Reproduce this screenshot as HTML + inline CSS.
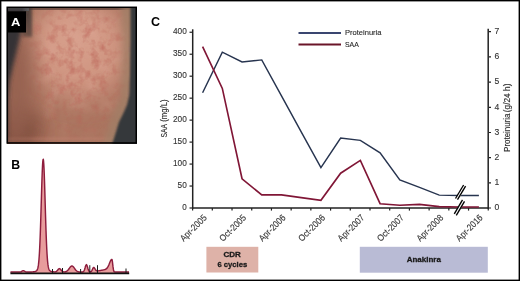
<!DOCTYPE html>
<html><head><meta charset="utf-8"><style>
html,body{margin:0;padding:0;background:#fff;overflow:hidden;}
svg{display:block;will-change:transform;}
text{font-family:"Liberation Sans", sans-serif;}
.t{stroke:#2a2a2a;stroke-width:0.12px;}
.t2{stroke:#333;stroke-width:0.12px;}
</style></head><body>
<svg width="520" height="281" viewBox="0 0 520 281">
<defs>
  <clipPath id="cp"><rect x="7" y="7" width="130" height="137"/></clipPath>
  <filter id="b12" x="-50%" y="-50%" width="200%" height="200%"><feGaussianBlur stdDeviation="12"/></filter>
  <filter id="b10" x="-50%" y="-50%" width="200%" height="200%"><feGaussianBlur stdDeviation="9"/></filter>
  <filter id="b25" x="-50%" y="-50%" width="200%" height="200%"><feGaussianBlur stdDeviation="2.3"/></filter>
  <radialGradient id="mg" cx="78" cy="62" r="75" gradientUnits="userSpaceOnUse" gradientTransform="translate(78 62) scale(0.9 1.1) translate(-78 -62)">
    <stop offset="0" stop-color="#fff"/><stop offset="0.4" stop-color="#fff"/><stop offset="1" stop-color="#222"/>
  </radialGradient>
  <mask id="tm" maskUnits="userSpaceOnUse" x="0" y="0" width="150" height="150"><rect x="0" y="0" width="150" height="150" fill="url(#mg)"/></mask>
  <filter id="texr" x="0" y="0" width="100%" height="100%" filterUnits="userSpaceOnUse" color-interpolation-filters="sRGB">
    <feTurbulence type="fractalNoise" baseFrequency="0.12" numOctaves="3" seed="4" result="n"/>
    <feColorMatrix in="n" type="matrix" values="0 0 0 0 0.72  0 0 0 0 0.36  0 0 0 0 0.32  1.5 0 0 0 -0.67"/>
    <feGaussianBlur stdDeviation="0.6"/>
  </filter>
  <filter id="texl" x="0" y="0" width="100%" height="100%" filterUnits="userSpaceOnUse" color-interpolation-filters="sRGB">
    <feTurbulence type="fractalNoise" baseFrequency="0.07" numOctaves="2" seed="9" result="n"/>
    <feColorMatrix in="n" type="matrix" values="0 0 0 0 0.88  0 0 0 0 0.67  0 0 0 0 0.61  1.4 0 0 0 -0.66"/>
    <feGaussianBlur stdDeviation="0.8"/>
  </filter>
  <filter id="b3" x="-50%" y="-50%" width="200%" height="200%"><feGaussianBlur stdDeviation="3"/></filter>
  <filter id="b2" x="-50%" y="-50%" width="200%" height="200%"><feGaussianBlur stdDeviation="1.6"/></filter>
  <filter id="b1" x="-50%" y="-50%" width="200%" height="200%"><feGaussianBlur stdDeviation="0.8"/></filter>
</defs>
<rect width="520" height="281" fill="#fff"/>

<!-- Panel A photo -->
<g clip-path="url(#cp)">
  <rect x="7" y="7" width="130" height="137" fill="#ab7560"/>
  <ellipse cx="80" cy="50" rx="50" ry="50" fill="#cf9480" filter="url(#b12)"/>
  <ellipse cx="75" cy="38" rx="32" ry="30" fill="#d69e8a" filter="url(#b12)"/>
  <ellipse cx="16" cy="130" rx="26" ry="22" fill="#7c4b3a" filter="url(#b10)"/>
  <g mask="url(#tm)"><rect x="7" y="7" width="130" height="137" fill="#fff" filter="url(#texl)" opacity="0.6"/></g>
  <g mask="url(#tm)"><rect x="7" y="7" width="130" height="137" fill="#fff" filter="url(#texr)" opacity="0.9"/></g>
  <rect x="7" y="137.5" width="130" height="2.5" fill="#c98878" opacity="0.35" filter="url(#b1)"/>
  <!-- top dark band -->
  <rect x="7" y="7" width="130" height="3" fill="#6a4a40" opacity="0.85"/>
  <rect x="22" y="7" width="10" height="30" fill="#3e3836" opacity="0.8" filter="url(#b2)"/>
  <rect x="7" y="7" width="22" height="4" fill="#5a5a5c"/>
  <!-- left dark region -->
  <ellipse cx="16" cy="85" rx="18" ry="62" fill="#94604f" opacity="0.9" filter="url(#b10)"/>
  <path d="M2,8 L25,8 L21,33 L16.5,52 L12.5,68 L9.5,82 L8,100 L7.2,143 L2,143 Z" fill="#363334" filter="url(#b25)"/>
  <!-- right dark transition & region -->
  <path d="M121,2 L145,2 L145,150 L102,150 L106,136 L110,122 L115,110 L120,98 L122,75 L123,40 Z" fill="#a08068" opacity="0.75" filter="url(#b3)"/>
  <path d="M130.5,2 L145,2 L145,150 L110,150 L112.5,143 L116,132 L119,122 L123,114 L127,105 L129.3,95 L130,75 L130.5,40 Z" fill="#35373b" filter="url(#b1)"/>
  <!-- label box -->
  <rect x="7" y="11.3" width="19" height="21.2" fill="#000"/>
</g>
<rect x="7.2" y="7.3" width="129.05" height="135.65" fill="none" stroke="#000" stroke-width="1.5"/>
<text x="15.8" y="25.9" font-size="11.6" font-weight="bold" fill="#fff" text-anchor="middle" textLength="9.4" lengthAdjust="spacingAndGlyphs">A</text>

<!-- Panel B -->
<text x="15.8" y="168.6" font-size="12.3" font-weight="bold" fill="#000" text-anchor="middle">B</text>
<path d="M10.5,273 L10.50,272.00 L11.00,272.00 L11.50,272.00 L12.00,272.00 L12.50,272.00 L13.00,272.00 L13.50,272.00 L14.00,272.00 L14.50,272.00 L15.00,272.00 L15.50,272.00 L16.00,272.00 L16.50,272.00 L17.00,272.00 L17.50,272.00 L18.00,272.00 L18.50,272.00 L19.00,271.99 L19.50,271.98 L20.00,271.95 L20.50,271.87 L21.00,271.73 L21.50,271.50 L22.00,271.21 L22.50,270.92 L23.00,270.73 L23.50,270.72 L24.00,270.88 L24.50,271.15 L25.00,271.45 L25.50,271.69 L26.00,271.85 L26.50,271.94 L27.00,271.98 L27.50,271.99 L28.00,271.99 L28.50,271.99 L29.00,271.99 L29.50,271.98 L30.00,271.97 L30.50,271.96 L31.00,271.95 L31.50,271.93 L32.00,271.90 L32.50,271.86 L33.00,271.82 L33.50,271.76 L34.00,271.68 L34.50,271.59 L35.00,271.46 L35.50,271.30 L36.00,271.08 L36.50,270.72 L36.75,270.46 L37.00,270.13 L37.25,269.68 L37.50,269.08 L37.75,268.29 L38.00,267.25 L38.25,265.89 L38.50,264.14 L38.75,261.92 L39.00,259.13 L39.25,255.70 L39.50,251.56 L39.75,246.65 L40.00,240.95 L40.25,234.46 L40.50,227.24 L40.75,219.41 L41.00,211.11 L41.25,202.56 L41.50,194.03 L41.75,185.80 L42.00,178.19 L42.25,171.52 L42.50,166.07 L42.75,162.09 L43.00,159.78 L43.25,159.24 L43.50,160.49 L43.75,163.49 L44.00,168.08 L44.25,174.06 L44.50,181.14 L44.75,189.04 L45.00,197.42 L45.25,206.00 L45.50,214.47 L45.75,222.61 L46.00,230.21 L46.25,237.15 L46.50,243.32 L46.75,248.71 L47.00,253.31 L47.25,257.16 L47.50,260.32 L47.75,262.87 L48.00,264.90 L48.25,266.48 L48.50,267.70 L48.75,268.63 L49.00,269.34 L49.25,269.87 L49.50,270.27 L49.75,270.57 L50.00,270.81 L50.25,270.99 L50.50,271.13 L50.75,271.24 L51.00,271.34 L51.50,271.49 L52.00,271.61 L52.50,271.70 L53.00,271.77 L53.50,271.82 L54.00,271.86 L54.50,271.87 L55.00,271.85 L55.50,271.78 L56.00,271.61 L56.50,271.32 L57.00,270.88 L57.50,270.31 L58.00,269.67 L58.50,269.09 L59.00,268.70 L59.50,268.60 L60.00,268.83 L60.50,269.31 L61.00,269.94 L61.50,270.56 L62.00,271.09 L62.50,271.47 L63.00,271.71 L63.50,271.84 L64.00,271.89 L64.50,271.87 L65.00,271.82 L65.50,271.71 L66.00,271.54 L66.50,271.31 L67.00,270.98 L67.50,270.57 L68.00,270.05 L68.50,269.45 L69.00,268.78 L69.50,268.08 L70.00,267.41 L70.50,266.81 L71.00,266.35 L71.50,266.07 L72.00,266.00 L72.50,266.16 L73.00,266.51 L73.50,267.04 L74.00,267.67 L74.50,268.36 L75.00,269.05 L75.50,269.70 L76.00,270.27 L76.50,270.75 L77.00,271.12 L77.50,271.41 L78.00,271.62 L78.50,271.76 L79.00,271.86 L79.50,271.92 L80.00,271.95 L80.50,271.97 L81.00,271.99 L81.50,271.99 L82.00,271.98 L82.50,271.94 L83.00,271.82 L83.50,271.50 L84.00,270.83 L84.50,269.67 L85.00,268.05 L85.50,266.29 L86.00,264.97 L86.50,264.62 L87.00,265.41 L87.50,266.98 L88.00,268.74 L88.50,270.20 L89.00,271.15 L89.50,271.65 L90.00,271.84 L90.50,271.83 L91.00,271.63 L91.50,271.14 L92.00,270.31 L92.50,269.21 L93.00,268.12 L93.50,267.46 L94.00,267.51 L94.50,268.13 L95.00,268.83 L95.50,269.61 L96.00,270.34 L96.50,270.73 L97.00,270.88 L97.50,270.90 L98.00,270.86 L98.50,270.80 L99.00,270.72 L99.50,270.65 L100.00,270.56 L100.50,270.48 L101.00,270.39 L101.50,270.30 L102.00,270.20 L102.50,270.10 L103.00,270.00 L103.50,269.89 L104.00,269.77 L104.50,269.63 L105.00,269.47 L105.50,269.26 L106.00,268.99 L106.50,268.62 L107.00,268.13 L107.50,267.49 L108.00,266.67 L108.50,265.66 L109.00,264.51 L109.50,263.26 L110.00,262.01 L110.50,260.88 L111.00,259.98 L111.50,259.41 L112.00,259.41 L112.50,262.23 L113.00,266.63 L113.50,269.90 L114.00,271.41 L114.50,271.88 L115.00,271.98 L115.50,272.00 L116.00,272.00 L116.50,272.00 L117.00,272.00 L117.50,272.00 L118.00,272.00 L118.50,272.00 L119.00,272.00 L119.50,272.00 L120.00,272.00 L120.50,272.00 L121.00,272.00 L121.50,272.00 L122.00,272.00 L122.50,272.00 L123.00,272.00 L123.50,272.00 L124.00,272.00 L124.50,272.00 L125.00,272.00 L125.50,272.00 L126.00,272.00 L126.50,272.00 L127.00,272.00 L127.50,272.00 L128.00,272.00 L128.50,272.00 L129.00,272.00 L129,273 Z" fill="#e89c9c"/>
<path d="M10.50,272.00 L11.00,272.00 L11.50,272.00 L12.00,272.00 L12.50,272.00 L13.00,272.00 L13.50,272.00 L14.00,272.00 L14.50,272.00 L15.00,272.00 L15.50,272.00 L16.00,272.00 L16.50,272.00 L17.00,272.00 L17.50,272.00 L18.00,272.00 L18.50,272.00 L19.00,271.99 L19.50,271.98 L20.00,271.95 L20.50,271.87 L21.00,271.73 L21.50,271.50 L22.00,271.21 L22.50,270.92 L23.00,270.73 L23.50,270.72 L24.00,270.88 L24.50,271.15 L25.00,271.45 L25.50,271.69 L26.00,271.85 L26.50,271.94 L27.00,271.98 L27.50,271.99 L28.00,271.99 L28.50,271.99 L29.00,271.99 L29.50,271.98 L30.00,271.97 L30.50,271.96 L31.00,271.95 L31.50,271.93 L32.00,271.90 L32.50,271.86 L33.00,271.82 L33.50,271.76 L34.00,271.68 L34.50,271.59 L35.00,271.46 L35.50,271.30 L36.00,271.08 L36.50,270.72 L36.75,270.46 L37.00,270.13 L37.25,269.68 L37.50,269.08 L37.75,268.29 L38.00,267.25 L38.25,265.89 L38.50,264.14 L38.75,261.92 L39.00,259.13 L39.25,255.70 L39.50,251.56 L39.75,246.65 L40.00,240.95 L40.25,234.46 L40.50,227.24 L40.75,219.41 L41.00,211.11 L41.25,202.56 L41.50,194.03 L41.75,185.80 L42.00,178.19 L42.25,171.52 L42.50,166.07 L42.75,162.09 L43.00,159.78 L43.25,159.24 L43.50,160.49 L43.75,163.49 L44.00,168.08 L44.25,174.06 L44.50,181.14 L44.75,189.04 L45.00,197.42 L45.25,206.00 L45.50,214.47 L45.75,222.61 L46.00,230.21 L46.25,237.15 L46.50,243.32 L46.75,248.71 L47.00,253.31 L47.25,257.16 L47.50,260.32 L47.75,262.87 L48.00,264.90 L48.25,266.48 L48.50,267.70 L48.75,268.63 L49.00,269.34 L49.25,269.87 L49.50,270.27 L49.75,270.57 L50.00,270.81 L50.25,270.99 L50.50,271.13 L50.75,271.24 L51.00,271.34 L51.50,271.49 L52.00,271.61 L52.50,271.70 L53.00,271.77 L53.50,271.82 L54.00,271.86 L54.50,271.87 L55.00,271.85 L55.50,271.78 L56.00,271.61 L56.50,271.32 L57.00,270.88 L57.50,270.31 L58.00,269.67 L58.50,269.09 L59.00,268.70 L59.50,268.60 L60.00,268.83 L60.50,269.31 L61.00,269.94 L61.50,270.56 L62.00,271.09 L62.50,271.47 L63.00,271.71 L63.50,271.84 L64.00,271.89 L64.50,271.87 L65.00,271.82 L65.50,271.71 L66.00,271.54 L66.50,271.31 L67.00,270.98 L67.50,270.57 L68.00,270.05 L68.50,269.45 L69.00,268.78 L69.50,268.08 L70.00,267.41 L70.50,266.81 L71.00,266.35 L71.50,266.07 L72.00,266.00 L72.50,266.16 L73.00,266.51 L73.50,267.04 L74.00,267.67 L74.50,268.36 L75.00,269.05 L75.50,269.70 L76.00,270.27 L76.50,270.75 L77.00,271.12 L77.50,271.41 L78.00,271.62 L78.50,271.76 L79.00,271.86 L79.50,271.92 L80.00,271.95 L80.50,271.97 L81.00,271.99 L81.50,271.99 L82.00,271.98 L82.50,271.94 L83.00,271.82 L83.50,271.50 L84.00,270.83 L84.50,269.67 L85.00,268.05 L85.50,266.29 L86.00,264.97 L86.50,264.62 L87.00,265.41 L87.50,266.98 L88.00,268.74 L88.50,270.20 L89.00,271.15 L89.50,271.65 L90.00,271.84 L90.50,271.83 L91.00,271.63 L91.50,271.14 L92.00,270.31 L92.50,269.21 L93.00,268.12 L93.50,267.46 L94.00,267.51 L94.50,268.13 L95.00,268.83 L95.50,269.61 L96.00,270.34 L96.50,270.73 L97.00,270.88 L97.50,270.90 L98.00,270.86 L98.50,270.80 L99.00,270.72 L99.50,270.65 L100.00,270.56 L100.50,270.48 L101.00,270.39 L101.50,270.30 L102.00,270.20 L102.50,270.10 L103.00,270.00 L103.50,269.89 L104.00,269.77 L104.50,269.63 L105.00,269.47 L105.50,269.26 L106.00,268.99 L106.50,268.62 L107.00,268.13 L107.50,267.49 L108.00,266.67 L108.50,265.66 L109.00,264.51 L109.50,263.26 L110.00,262.01 L110.50,260.88 L111.00,259.98 L111.50,259.41 L112.00,259.41 L112.50,262.23 L113.00,266.63 L113.50,269.90 L114.00,271.41 L114.50,271.88 L115.00,271.98 L115.50,272.00 L116.00,272.00 L116.50,272.00 L117.00,272.00 L117.50,272.00 L118.00,272.00 L118.50,272.00 L119.00,272.00 L119.50,272.00 L120.00,272.00 L120.50,272.00 L121.00,272.00 L121.50,272.00 L122.00,272.00 L122.50,272.00 L123.00,272.00 L123.50,272.00 L124.00,272.00 L124.50,272.00 L125.00,272.00 L125.50,272.00 L126.00,272.00 L126.50,272.00 L127.00,272.00 L127.50,272.00 L128.00,272.00 L128.50,272.00 L129.00,272.00" fill="none" stroke="#8e1d3d" stroke-width="1.45" stroke-linejoin="round"/>
<line x1="10.4" y1="273.4" x2="129.2" y2="273.4" stroke="#111" stroke-width="1.6"/>
<g stroke="#1a1a1a" stroke-width="1">
  <line x1="52.5" y1="269" x2="52.5" y2="273"/>
  <line x1="62.5" y1="268" x2="62.5" y2="273"/>
  <line x1="80.6" y1="269" x2="80.6" y2="273"/>
  <line x1="89.8" y1="265.2" x2="89.8" y2="273"/>
  <line x1="97.5" y1="265.2" x2="97.5" y2="273"/>
  <line x1="126" y1="268.5" x2="126" y2="273"/>
</g>

<!-- Panel C -->
<text x="155.5" y="26.2" font-size="12.5" font-weight="bold" fill="#000" text-anchor="middle">C</text>

<!-- axes -->
<g stroke="#222" stroke-width="1.5" fill="none">
  <line x1="192.7" y1="29.3" x2="192.7" y2="208.7"/>
  <line x1="488.2" y1="28.8" x2="488.2" y2="208.7"/>
  <line x1="192" y1="208" x2="488.9" y2="208"/>
</g>
<!-- left ticks -->
<g stroke="#222" stroke-width="1.2">
  <line x1="189.5" y1="32.25" x2="192" y2="32.25"/>
  <line x1="189.5" y1="54.22" x2="192" y2="54.22"/>
  <line x1="189.5" y1="76.19" x2="192" y2="76.19"/>
  <line x1="189.5" y1="98.16" x2="192" y2="98.16"/>
  <line x1="189.5" y1="120.13" x2="192" y2="120.13"/>
  <line x1="189.5" y1="142.1" x2="192" y2="142.1"/>
  <line x1="189.5" y1="164.07" x2="192" y2="164.07"/>
  <line x1="189.5" y1="186.04" x2="192" y2="186.04"/>
  <line x1="189.5" y1="208" x2="192" y2="208"/>
</g>
<!-- right ticks -->
<g stroke="#222" stroke-width="1.2">
  <line x1="489" y1="31.7" x2="491" y2="31.7"/>
  <line x1="489" y1="56.9" x2="491" y2="56.9"/>
  <line x1="489" y1="82.1" x2="491" y2="82.1"/>
  <line x1="489" y1="107.3" x2="491" y2="107.3"/>
  <line x1="489" y1="132.5" x2="491" y2="132.5"/>
  <line x1="489" y1="157.6" x2="491" y2="157.6"/>
  <line x1="489" y1="182.8" x2="491" y2="182.8"/>
  <line x1="489" y1="208" x2="491" y2="208"/>
</g>
<!-- x ticks -->
<g stroke="#222" stroke-width="1.2">
  <line x1="192.6" y1="208" x2="192.6" y2="210.6"/>
  <line x1="212.31" y1="208" x2="212.31" y2="210.6"/>
  <line x1="232.02" y1="208" x2="232.02" y2="210.6"/>
  <line x1="251.73" y1="208" x2="251.73" y2="210.6"/>
  <line x1="271.44" y1="208" x2="271.44" y2="210.6"/>
  <line x1="291.15" y1="208" x2="291.15" y2="210.6"/>
  <line x1="310.86" y1="208" x2="310.86" y2="210.6"/>
  <line x1="330.57" y1="208" x2="330.57" y2="210.6"/>
  <line x1="350.28" y1="208" x2="350.28" y2="210.6"/>
  <line x1="369.99" y1="208" x2="369.99" y2="210.6"/>
  <line x1="389.7" y1="208" x2="389.7" y2="210.6"/>
  <line x1="409.41" y1="208" x2="409.41" y2="210.6"/>
  <line x1="429.12" y1="208" x2="429.12" y2="210.6"/>
  <line x1="448.83" y1="208" x2="448.83" y2="210.6"/>
  <line x1="468.54" y1="208" x2="468.54" y2="210.6"/>
  <line x1="488.25" y1="208" x2="488.25" y2="210.6"/>
</g>

<!-- left tick labels -->
<g class="t2" font-size="9.25" fill="#333" text-anchor="end">
  <text x="186.8" y="34.45" textLength="13.8" lengthAdjust="spacingAndGlyphs">400</text>
  <text x="186.8" y="56.45" textLength="13.8" lengthAdjust="spacingAndGlyphs">350</text>
  <text x="186.8" y="78.45" textLength="13.8" lengthAdjust="spacingAndGlyphs">300</text>
  <text x="186.8" y="100.35" textLength="13.8" lengthAdjust="spacingAndGlyphs">250</text>
  <text x="186.8" y="122.35" textLength="13.8" lengthAdjust="spacingAndGlyphs">200</text>
  <text x="186.8" y="144.35" textLength="13.8" lengthAdjust="spacingAndGlyphs">150</text>
  <text x="186.8" y="166.25" textLength="13.8" lengthAdjust="spacingAndGlyphs">100</text>
  <text x="186.8" y="188.25" textLength="9.2" lengthAdjust="spacingAndGlyphs">50</text>
  <text x="186.8" y="210.15" textLength="4.5" lengthAdjust="spacingAndGlyphs">0</text>
</g>
<!-- right tick labels -->
<g class="t2" font-size="9.25" fill="#333">
  <text x="494.4" y="34.00" textLength="4.8" lengthAdjust="spacingAndGlyphs">7</text>
  <text x="494.4" y="59.20" textLength="4.8" lengthAdjust="spacingAndGlyphs">6</text>
  <text x="494.4" y="84.40" textLength="4.8" lengthAdjust="spacingAndGlyphs">5</text>
  <text x="494.4" y="109.60" textLength="4.8" lengthAdjust="spacingAndGlyphs">4</text>
  <text x="494.4" y="134.80" textLength="4.8" lengthAdjust="spacingAndGlyphs">3</text>
  <text x="494.4" y="159.90" textLength="4.8" lengthAdjust="spacingAndGlyphs">2</text>
  <text x="494.4" y="185.10" textLength="4.8" lengthAdjust="spacingAndGlyphs">1</text>
  <text x="494.4" y="210.30" textLength="4.8" lengthAdjust="spacingAndGlyphs">0</text>
</g>
<!-- axis titles -->
<text transform="translate(167.4,137.4) rotate(-90)" class="t" font-size="8.5" fill="#2a2a2a" textLength="13.4" lengthAdjust="spacingAndGlyphs">SAA</text>
<text transform="translate(167.4,121.8) rotate(-90)" class="t" font-size="8.5" fill="#2a2a2a" textLength="22.5" lengthAdjust="spacingAndGlyphs">(mg/L)</text>
<text transform="translate(510.4,151.9) rotate(-90)" class="t" font-size="8.8" fill="#2a2a2a" textLength="38.4" lengthAdjust="spacingAndGlyphs">Proteinuria</text>
<text transform="translate(510.4,112.2) rotate(-90)" class="t" font-size="8.8" fill="#2a2a2a" textLength="28.6" lengthAdjust="spacingAndGlyphs">(g/24 h)</text>

<!-- x labels -->
<g class="t2" font-size="9.25" fill="#333" text-anchor="end">
  <text transform="translate(207.35,218.40) rotate(-45)" textLength="33.5" lengthAdjust="spacingAndGlyphs">Apr-2005</text>
  <text transform="translate(246.77,218.40) rotate(-45)" textLength="33.5" lengthAdjust="spacingAndGlyphs">Oct-2005</text>
  <text transform="translate(286.19,218.40) rotate(-45)" textLength="33.5" lengthAdjust="spacingAndGlyphs">Apr-2006</text>
  <text transform="translate(325.61,218.40) rotate(-45)" textLength="33.5" lengthAdjust="spacingAndGlyphs">Oct-2006</text>
  <text transform="translate(365.03,218.40) rotate(-45)" textLength="33.5" lengthAdjust="spacingAndGlyphs">Apr-2007</text>
  <text transform="translate(404.45,218.40) rotate(-45)" textLength="33.5" lengthAdjust="spacingAndGlyphs">Oct-2007</text>
  <text transform="translate(443.87,218.40) rotate(-45)" textLength="33.5" lengthAdjust="spacingAndGlyphs">Apr-2008</text>
  <text transform="translate(483.29,218.40) rotate(-45)" textLength="33.5" lengthAdjust="spacingAndGlyphs">Apr-2016</text>
</g>

<!-- data lines -->
<polyline fill="none" stroke="#27344f" stroke-width="1.45" stroke-linejoin="miter" points="202.60,92.7 222.32,52.2 242.04,61.9 261.76,59.9 281.48,95.9 301.20,131.9 320.92,167.7 340.64,138.1 360.36,140.4 380.08,152.8 399.80,180.0 419.52,187.4 439.24,195.1 458.96,195.45 478.90,195.45"/>
<polyline fill="none" stroke="#801636" stroke-width="1.65" stroke-linejoin="miter" points="202.60,46.6 222.32,88.4 242.04,178.8 261.76,194.9 281.48,194.9 301.20,197.6 320.92,200.3 340.64,173.2 360.36,160.4 380.08,203.7 399.80,205.2 419.52,204.4 439.24,206.6 458.96,207.0 478.90,207.0"/>

<!-- break marks -->
<g>
  <path d="M455.2,198.8 L463.4,185.2 L466.2,186.9 L458,200.5 Z" fill="#fff"/>
  <line x1="455.5" y1="198.5" x2="463.6" y2="185" stroke="#000" stroke-width="1.35"/>
  <line x1="457.5" y1="199.7" x2="465.6" y2="186.2" stroke="#000" stroke-width="1.35"/>
  <path d="M454.1,213.6 L462.3,199.8 L465.1,201.5 L456.9,215.3 Z" fill="#fff"/>
  <line x1="454.3" y1="213.8" x2="462.5" y2="199.8" stroke="#000" stroke-width="1.35"/>
  <line x1="456.3" y1="215.3" x2="464.5" y2="201.3" stroke="#000" stroke-width="1.35"/>
</g>

<!-- legend -->
<line x1="298.5" y1="32.9" x2="341" y2="32.9" stroke="#3a4670" stroke-width="2"/>
<line x1="298.5" y1="44.55" x2="341" y2="44.55" stroke="#6a1529" stroke-width="1.9"/>
<text class="t" x="345" y="35.2" font-size="7.8" fill="#2a2a2a" textLength="36.5" lengthAdjust="spacingAndGlyphs">Proteinuria</text>
<text class="t" x="345" y="47" font-size="7.8" fill="#2a2a2a" textLength="13.8" lengthAdjust="spacingAndGlyphs">SAA</text>

<!-- treatment boxes -->
<rect x="206.4" y="246.8" width="51.9" height="25.7" fill="#deb2a8"/>
<text x="232.2" y="256.8" font-size="8" font-weight="bold" fill="#1a1a1a" stroke="#1a1a1a" stroke-width="0.3" text-anchor="middle">CDR</text>
<text x="232.3" y="266.6" font-size="8" font-weight="bold" fill="#1a1a1a" stroke="#1a1a1a" stroke-width="0.3" text-anchor="middle" textLength="29.8" lengthAdjust="spacingAndGlyphs">6 cycles</text>
<rect x="359.8" y="246.8" width="128" height="25.9" fill="#b9bbd5"/>
<text x="423.8" y="261.9" font-size="8" font-weight="bold" fill="#1a1a1a" stroke="#1a1a1a" stroke-width="0.3" text-anchor="middle">Anakinra</text>

<!-- outer frame -->
<rect x="0.7" y="0.7" width="518.6" height="279.6" fill="none" stroke="#000" stroke-width="1.4"/>
</svg>
</body></html>
